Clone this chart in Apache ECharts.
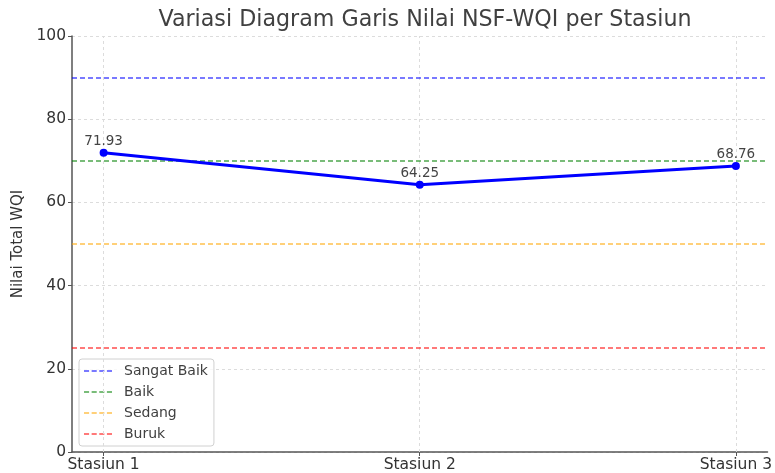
<!DOCTYPE html>
<html>
<head>
<meta charset="utf-8">
<script src="https://cdn.jsdelivr.net/npm/echarts@6/dist/echarts.min.js"></script>
<style>
  html, body { margin: 0; padding: 0; background: #fff; }
  #chart { width: 775px; height: 473px; }
</style>
</head>
<body>
<div id="chart"></div>
<script>
const stations = ["Stasiun 1", "Stasiun 2", "Stasiun 3"];
const wqiValues = [71.93, 64.25, 68.76];
const classNames = ["Sangat Baik", "Baik", "Sedang", "Buruk"];
const classLimits = [90, 70, 50, 25];
const classColors = ["rgba(0,0,255,0.7)", "rgba(0,128,0,0.7)", "rgba(255,165,0,0.7)", "rgba(255,0,0,0.7)"];
const yTicks = [0, 20, 40, 60, 80, 100];

const chart = echarts.init(document.getElementById("chart"));
const font = "DejaVu Sans";
const stationIdx = stations.map((s, i) => i);

const thresholdSeries = classNames.map((name, i) => ({
    name: name,
    type: "line",
    data: [],
    symbol: "none",
    lineStyle: { color: classColors[i], type: [5, 3], width: 1.5 },
    itemStyle: { color: classColors[i] },
    markLine: {
        silent: true,
        symbol: "none",
        label: { show: false },
        lineStyle: { color: classColors[i], type: [5, 3], width: 1.5 },
        data: [{ yAxis: classLimits[i] }]
    }
}));

const option = {
    animation: false,
    textStyle: { fontFamily: font },
    title: {
        text: "Variasi Diagram Garis Nilai NSF-WQI per Stasiun",
        left: 420,
        textAlign: "center",
        top: 4,
        textStyle: { fontFamily: font, fontSize: 22.2, fontWeight: "normal", color: "#404040" }
    },
    grid: { left: 72, right: 7, top: 36, bottom: 21, containLabel: false },
    legend: {
        orient: "vertical",
        left: 79,
        top: 359,
        data: classNames,
        itemWidth: 28,
        itemHeight: 12,
        itemGap: 7,
        padding: [5, 6, 5, 5],
        borderColor: "#d0d0d0",
        borderWidth: 1,
        borderRadius: 3,
        backgroundColor: "rgba(255,255,255,0.8)",
        textStyle: { fontFamily: font, fontSize: 14, color: "#404040", padding: [0, 0, 0, 7] },
        icon: "path://M0,5 L4,5 L4,6 L0,6 Z M6,5 L10,5 L10,6 L6,6 Z M12,5 L16,5 L16,6 L12,6 Z M18,5 L22,5 L22,6 L18,6 Z"
    },
    xAxis: {
        type: "value",
        min: -0.1,
        max: 2.1,
        axisLine: { show: true, onZero: false, lineStyle: { color: "#555", width: 1.5 } },
        axisTick: { show: true, customValues: stationIdx, length: 4, lineStyle: { color: "#555" } },
        axisLabel: {
            customValues: stationIdx,
            formatter: v => stations[Math.round(v)] || "",
            fontFamily: font, fontSize: 15.5, color: "#333", margin: 5
        },
        splitLine: { show: false }
    },
    yAxis: {
        type: "value",
        min: yTicks[0],
        max: yTicks[yTicks.length - 1],
        interval: 20,
        name: "Nilai Total WQI",
        nameLocation: "middle",
        nameGap: 41,
        nameTextStyle: { fontFamily: font, fontSize: 15, color: "#333" },
        axisLine: { show: true, onZero: false, lineStyle: { color: "#555", width: 1.5 } },
        axisTick: { show: true, length: 4, lineStyle: { color: "#555" } },
        axisLabel: { fontFamily: font, fontSize: 15.5, color: "#333", margin: 6 },
        splitLine: { show: true, lineStyle: { color: "#dcdcdc", type: [3, 3], width: 1 } }
    },
    series: [
        {
            name: "WQI",
            type: "line",
            data: wqiValues.map((v, i) => [i, v]),
            symbol: "circle",
            symbolSize: 8,
            z: 5,
            lineStyle: { color: "#0000ff", width: 3 },
            itemStyle: { color: "#0000ff" },
            label: {
                show: true,
                position: "top",
                distance: 0,
                formatter: p => p.value[1].toFixed(2),
                fontFamily: font, fontSize: 13.5, color: "#444"
            },
            markLine: {
                silent: true,
                symbol: "none",
                label: { show: false },
                lineStyle: { color: "#dcdcdc", type: [3, 3], width: 1 },
                data: stationIdx.map(i => ({ xAxis: i }))
            }
        }
    ].concat(thresholdSeries)
};

chart.setOption(option);
</script>
</body>
</html>
